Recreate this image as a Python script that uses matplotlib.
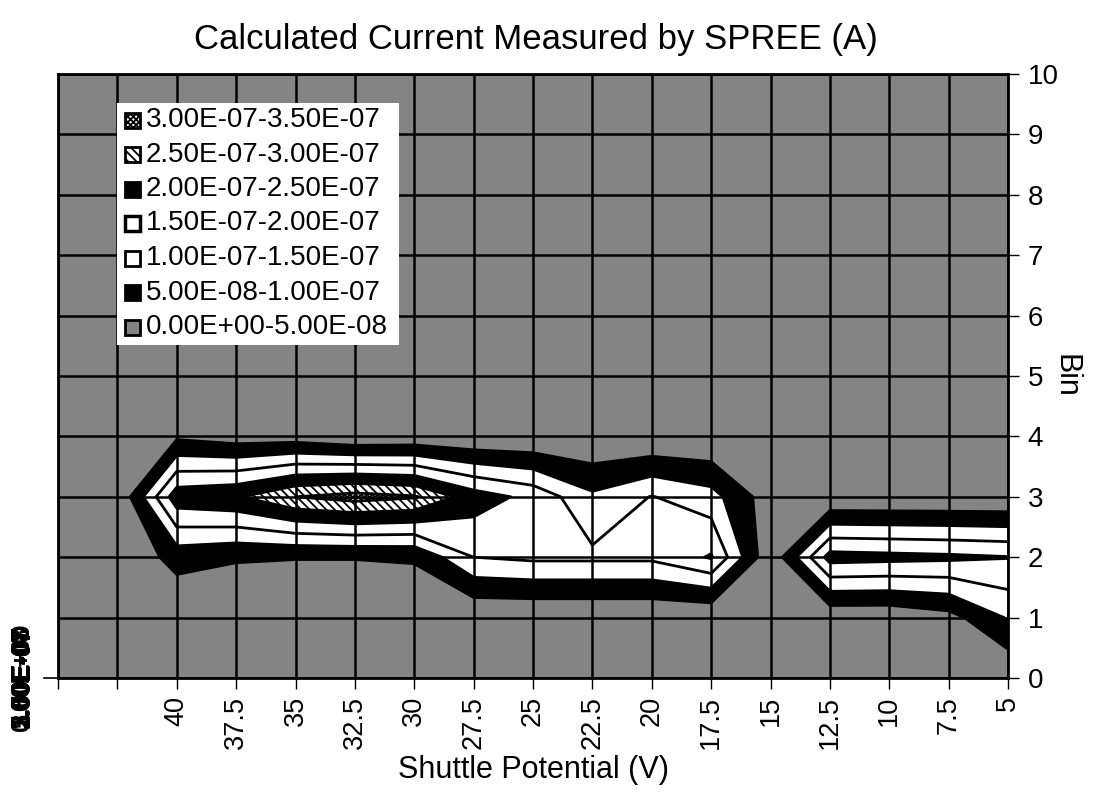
import numpy as np
import matplotlib
matplotlib.use("Agg")
import matplotlib.pyplot as plt
from matplotlib.patches import Rectangle
from matplotlib.lines import Line2D

plt.rcParams['font.family'] = ['Liberation Sans', 'DejaVu Sans']
plt.rcParams['hatch.color'] = 'black'
plt.rcParams['hatch.linewidth'] = 1.3

# ---------------- data ----------------
potential = [45, 42.5, 40, 37.5, 35, 32.5, 30, 27.5, 25, 22.5, 20, 17.5, 15, 12.5, 10, 7.5, 5]
potential_labels = ['', '', '40', '37.5', '35', '32.5', '30', '27.5', '25', '22.5',
                    '20', '17.5', '15', '12.5', '10', '7.5', '5']
bins = [0, 1, 2, 3, 4, 5, 6, 7, 8, 9, 10]

current_bin0 = [0, 0, 0, 0, 0, 0, 0, 0, 0, 0, 0, 0, 0, 0, 0, 0, 0]
current_bin1 = [0, 0, 0, 0, 0, 0, 0, 0, 0, 0, 0, 0, 0, 0.75e-8, 0.75e-8, 3.0e-8, 1.05e-7]
current_bin2 = [0, 0, 7.0e-8, 5.5e-8, 5.2e-8, 5.2e-8, 5.6e-8, 1.5e-7, 1.6e-7, 1.6e-7,
                1.6e-7, 2.05e-7, 0.75e-8, 2.2e-7, 2.15e-7, 2.1e-7, 2.02e-7]
current_bin3 = [0, 0, 2.3e-7, 2.45e-7, 3.0e-7, 3.2e-7, 3.05e-7, 2.25e-7, 1.85e-7, 1.1e-7,
                1.52e-7, 1.2e-7, 2.0e-8, 0, 0, 0, 0]
current_bin4 = [0, 0, 4.0e-8, 2.3e-8, 2.3e-8, 0.3e-8, 0.8e-8, 0, 0, 0, 0, 0, 0, 0, 0, 0, 0]
current_bin5 = [0, 0, 0, 0, 0, 0, 0, 0, 0, 0, 0, 0, 0, 0, 0, 0, 0]
current_bin6 = [0, 0, 0, 0, 0, 0, 0, 0, 0, 0, 0, 0, 0, 0, 0, 0, 0]
current_bin7 = [0, 0, 0, 0, 0, 0, 0, 0, 0, 0, 0, 0, 0, 0, 0, 0, 0]
current_bin8 = [0, 0, 0, 0, 0, 0, 0, 0, 0, 0, 0, 0, 0, 0, 0, 0, 0]
current_bin9 = [0, 0, 0, 0, 0, 0, 0, 0, 0, 0, 0, 0, 0, 0, 0, 0, 0]
current_bin10 = [0, 0, 0, 0, 0, 0, 0, 0, 0, 0, 0, 0, 0, 0, 0, 0, 0]

levels = [0, 5e-8, 1e-7, 1.5e-7, 2e-7, 2.5e-7, 3e-7, 3.5e-7]
level_labels = ['0.00E+00-5.00E-08', '5.00E-08-1.00E-07', '1.00E-07-1.50E-07',
                '1.50E-07-2.00E-07', '2.00E-07-2.50E-07', '2.50E-07-3.00E-07',
                '3.00E-07-3.50E-07']
axis_level_labels = ['0.00E+00', '5.00E-08', '1.00E-07', '1.50E-07', '2.00E-07',
                     '2.50E-07', '3.00E-07', '3.50E-07']

# ---------------- style ----------------
GRAY = '#848484'
fill_colors = [GRAY, 'black', 'white', 'white', 'black', 'white', 'white']
fill_hatches = [None, None, None, None, None, '\\\\\\\\', 'xxxxxx']

W, H = 1099, 793
fig = plt.figure(figsize=(W / 100, H / 100), dpi=100)
fig.patch.set_facecolor('white')

def fx(x):
    return x / W

def fy(y):
    return 1 - y / H

ax = fig.add_axes([fx(58), fy(678), 950 / W, 604 / H])
ax.set_facecolor(GRAY)

Z = np.array([current_bin0, current_bin1, current_bin2, current_bin3, current_bin4,
              current_bin5, current_bin6, current_bin7, current_bin8, current_bin9,
              current_bin10])
X, Y = np.meshgrid(potential, bins)

ax.contourf(X, Y, Z, levels=levels, colors=fill_colors, hatches=fill_hatches)
ax.contour(X, Y, Z, levels=levels[1:-1], colors='black', linewidths=2.0)

ax.set_xlim(45, 5)
ax.set_ylim(0, 10)
ax.set_xticks(potential)
ax.set_xticklabels(potential_labels, rotation=90, fontsize=19.5)
ax.set_yticks(bins)
ax.set_yticklabels([str(b) for b in bins], fontsize=20)
ax.yaxis.tick_right()
ax.tick_params(axis='x', direction='out', length=8, width=1, pad=5)
ax.tick_params(axis='y', direction='out', length=8, width=1, pad=6)
ax.grid(True, color='black', linewidth=1.8)
ax.set_axisbelow(False)
for s in ax.spines.values():
    s.set_color('black')
    s.set_linewidth(2)

# titles / axis labels
fig.text(fx(536), fy(40), 'Calculated Current Measured by SPREE (A)', fontsize=25,
         ha='center', va='center')
fig.text(fx(533), fy(770), 'Shuttle Potential (V)', fontsize=22, ha='center', va='center')
fig.text(fx(1065), fy(376), 'Bin', fontsize=22, rotation=-90, ha='center', va='center')

# overlapping depth-axis labels at left (as in the original, all drawn at one spot)
for lab in axis_level_labels:
    fig.text(fx(22), fy(677), lab, fontsize=18, rotation=90, ha='center', va='center',
             fontweight='bold')
fig.add_artist(Line2D([fx(44), fx(58)], [fy(678), fy(678)], color='black', lw=1.2))

# legend
fig.add_artist(Rectangle((fx(117), fy(345)), 282 / W, 242 / H, transform=fig.transFigure,
                         facecolor='white', edgecolor='none', zorder=5))
legend_rows = list(zip(level_labels, fill_colors, fill_hatches))[::-1]
for k, (lab, col, hat) in enumerate(legend_rows):
    yc = 120 + 34.5 * k
    lw = 2.5 if lab.startswith('1.50') else 2.0
    fig.add_artist(Rectangle((fx(125), fy(yc + 7.5)), 15 / W, 15 / H,
                             transform=fig.transFigure, facecolor=col,
                             hatch=hat, edgecolor='black', linewidth=lw, zorder=6))
    fig.text(fx(146), fy(yc), lab, fontsize=20, ha='left', va='center', zorder=7)

fig.savefig('out.png', dpi=100)
